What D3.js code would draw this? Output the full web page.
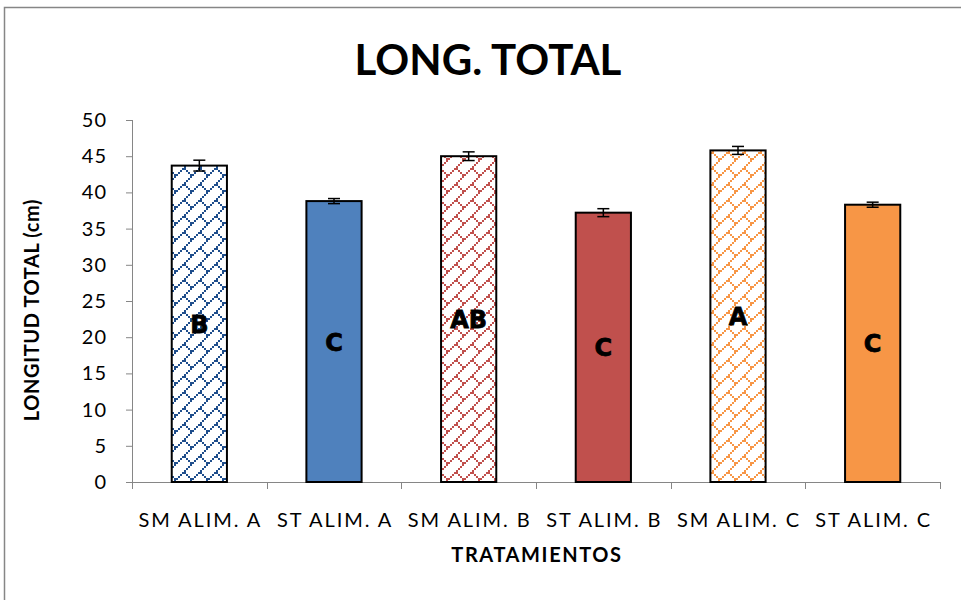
<!DOCTYPE html>
<html><head><meta charset="utf-8">
<script src="https://cdn.jsdelivr.net/npm/d3@7"></script>
<style>body{margin:0;background:#fff;}svg{display:block;}</style>
</head><body>
<script>
const categories = ["SM ALIM. A","ST ALIM. A","SM ALIM. B","ST ALIM. B","SM ALIM. C","ST ALIM. C"];
const values = [43.7, 38.8, 45.0, 37.2, 45.8, 38.3];
const errors = [0.75, 0.35, 0.6, 0.55, 0.55, 0.35];
const letters = ["B","C","AB","C","A","C"];
const yTicks = [0,5,10,15,20,25,30,35,40,45,50];
const colors = ["#1F4E8C","#4F81BD","#C0504D","#C0504D","#F79646","#F79646"];
const patterned = [true,false,true,false,true,false];

const W=961,H=600;
const svg=d3.select("body").append("svg").attr("width",W).attr("height",H);
const defs=svg.append("defs");
// diagonal brick pattern cells (8x8 bits scaled 2x)
const bits=[];
for(let r=0;r<8;r++){ bits.push([7-r,r]); if(r>=4) bits.push([r,r]); }
colors.forEach((c,i)=>{
  if(!patterned[i]) return;
  const p=defs.append("pattern").attr("id","pat"+i).attr("patternUnits","userSpaceOnUse")
    .attr("width",16).attr("height",16);
  p.append("rect").attr("width",16).attr("height",16).attr("fill","#fff");
  p.selectAll("rect.b").data(bits).enter().append("rect").attr("class","b")
    .attr("x",d=>d[0]*2).attr("y",d=>d[1]*2).attr("width",2).attr("height",2).attr("fill",c);
});

// outer frame
svg.append("rect").attr("x",4.5).attr("y",7.5).attr("width",1200).attr("height",1200)
  .attr("fill","none").attr("stroke","#868686").attr("stroke-width",1.5);

const x=d3.scaleBand().domain(categories).range([132,940]).paddingInner(0.59).paddingOuter(0.295);
const y=d3.scaleLinear().domain([0,50]).range([482,120]);

// y axis
const ya=svg.append("g").attr("transform","translate(132,0)")
  .call(d3.axisLeft(y).tickValues(yTicks).tickSize(6).tickPadding(19));
ya.select(".domain").attr("stroke","#868686").attr("d","M0.5,120V482");
ya.selectAll(".tick line").attr("stroke","#868686");
ya.selectAll("text").attr("font-family","Lato").attr("font-size",20).attr("letter-spacing",1).attr("fill","#000");

// x axis
const xa=svg.append("g").attr("transform","translate(0,482)");
xa.append("line").attr("x1",132).attr("x2",940).attr("y1",0.5).attr("y2",0.5).attr("stroke","#868686");
const bounds=categories.map(c=>x(c)-x.step()*x.paddingInner()/2).concat([940]);
xa.selectAll("line.t").data(bounds).enter().append("line").attr("class","t")
  .attr("x1",d=>Math.round(d)+0.5).attr("x2",d=>Math.round(d)+0.5).attr("y1",0).attr("y2",7).attr("stroke","#868686");
xa.selectAll("text").data(categories).enter().append("text")
  .attr("x",d=>x(d)+x.bandwidth()/2+1).attr("y",45).attr("text-anchor","middle")
  .attr("font-family","Lato").attr("font-size",20).attr("letter-spacing",1.9).text(d=>d);

// bars
svg.selectAll("rect.bar").data(values).enter().append("rect").attr("class","bar")
  .attr("x",(d,i)=>x(categories[i])).attr("y",d=>y(d)).attr("width",x.bandwidth())
  .attr("height",d=>y(0)-y(d))
  .attr("fill",(d,i)=>patterned[i]?"url(#pat"+i+")":colors[i])
  .attr("stroke","#000").attr("stroke-width",2);

// error bars
const eb=svg.selectAll("g.eb").data(values).enter().append("g")
  .attr("transform",(d,i)=>"translate("+(x(categories[i])+x.bandwidth()/2)+",0)");
eb.append("line").attr("y1",(d,i)=>y(d+errors[i])).attr("y2",(d,i)=>y(d-errors[i])).attr("stroke","#000").attr("stroke-width",1.5);
eb.append("line").attr("x1",-6).attr("x2",6).attr("y1",(d,i)=>y(d+errors[i])).attr("y2",(d,i)=>y(d+errors[i])).attr("stroke","#000").attr("stroke-width",1.5);
eb.append("line").attr("x1",-6).attr("x2",6).attr("y1",(d,i)=>y(d-errors[i])).attr("y2",(d,i)=>y(d-errors[i])).attr("stroke","#000").attr("stroke-width",1.5);

// letters
svg.selectAll("text.lab").data(values).enter().append("text").attr("class","lab")
  .attr("x",(d,i)=>x(categories[i])+x.bandwidth()/2).attr("y",d=>y(d/2)+9)
  .attr("text-anchor","middle").attr("font-family","DejaVu Sans").attr("font-weight","bold")
  .attr("font-size",24).attr("stroke","#000").attr("stroke-width",0.8).text((d,i)=>letters[i]);

// titles
svg.append("text").attr("x",488).attr("y",75).attr("text-anchor","middle")
  .attr("font-family","Lato").attr("font-weight","bold").attr("font-size",42).text("LONG. TOTAL");
svg.append("text").attr("x",537).attr("y",562).attr("text-anchor","middle")
  .attr("font-family","Lato").attr("font-weight","bold").attr("font-size",20).attr("letter-spacing",1.6).text("TRATAMIENTOS");
svg.append("text").attr("transform","translate(39,310) rotate(-90)").attr("text-anchor","middle")
  .attr("font-family","Lato").attr("font-weight","bold").attr("font-size",20).attr("letter-spacing",0.6).text("LONGITUD TOTAL (cm)");
</script>
</body></html>
